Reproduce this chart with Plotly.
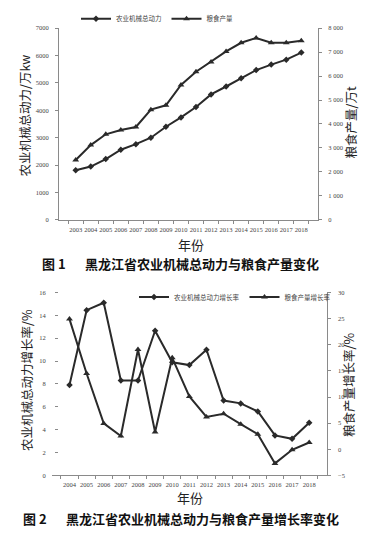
import plotly.graph_objects as go

# ---------- data: figure 1 ----------
years1 = ["2003", "2004", "2005", "2006", "2007", "2008", "2009", "2010",
          "2011", "2012", "2013", "2014", "2015", "2016", "2017", "2018"]
machinery_power = [1810, 1945, 2220, 2560, 2765, 3000, 3400, 3740,
                   4120, 4580, 4870, 5170, 5470, 5670, 5850, 6110]
grain_output = [2500, 3120, 3570, 3750, 3875, 4600, 4780, 5630,
                6180, 6590, 7030, 7390, 7590, 7390, 7390, 7480]
left1_ticks = [0, 1000, 2000, 3000, 4000, 5000, 6000, 7000]
left1_text = ["0", "1000", "2000", "3000", "4000", "5000", "6000", "7000"]
right1_ticks = [0, 1000, 2000, 3000, 4000, 5000, 6000, 7000, 8000]
right1_text = ["0", "1 000", "2 000", "3 000", "4 000", "5 000", "6 000", "7 000", "8 000"]

# ---------- data: figure 2 ----------
years2 = ["2004", "2005", "2006", "2007", "2008", "2009", "2010", "2011",
          "2012", "2013", "2014", "2015", "2016", "2017", "2018"]
machinery_growth = [7.9, 14.45, 15.1, 8.3, 8.3, 12.65, 9.9, 9.65,
                    11.0, 6.55, 6.3, 5.6, 3.5, 3.2, 4.6]
grain_growth = [24.9, 14.5, 4.95, 2.55, 19.1, 3.3, 17.5, 10.1,
                6.2, 6.8, 4.8, 2.9, -2.7, -0.1, 1.3]

W, H = 369, 533
LINE = "#2a2a2a"
AX = "#8a8a8a"
FONT = "Noto Sans CJK SC"

def px_x(p):
    return p / W

def px_y(p):
    return 1 - p / H

fig = go.Figure()

fig.add_trace(go.Scatter(
    x=years1, y=machinery_power, name="农业机械总动力",
    mode="lines+markers", xaxis="x", yaxis="y",
    line=dict(color=LINE, width=2),
    marker=dict(symbol="diamond", size=5, color=LINE),
    legend="legend"))
fig.add_trace(go.Scatter(
    x=years1, y=grain_output, name="粮食产量",
    mode="lines+markers", xaxis="x", yaxis="y2",
    line=dict(color=LINE, width=2),
    marker=dict(symbol="triangle-up", size=6, color=LINE),
    legend="legend"))

fig.add_trace(go.Scatter(
    x=years2, y=machinery_growth, name="农业机械总动力增长率",
    mode="lines+markers", xaxis="x2", yaxis="y3",
    line=dict(color=LINE, width=2),
    marker=dict(symbol="diamond", size=5, color=LINE),
    legend="legend2"))
fig.add_trace(go.Scatter(
    x=years2, y=grain_growth, name="粮食产量增长率",
    mode="lines+markers", xaxis="x2", yaxis="y4",
    line=dict(color=LINE, width=2),
    marker=dict(symbol="triangle-up", size=6, color=LINE),
    legend="legend2"))

tickfont = dict(family="Liberation Serif", size=6.5, color="#444")

common_x = dict(type="category", showline=True, linecolor=AX, linewidth=1,
                ticks="outside", ticklen=3, tickcolor=AX, tickson="boundaries",
                showgrid=False, zeroline=False, tickfont=tickfont, tickangle=0,
                ticklabelstandoff=3, fixedrange=True)

fig.update_layout(
    width=W, height=H,
    margin=dict(l=0, r=0, t=0, b=0),
    paper_bgcolor="white", plot_bgcolor="white",
    font=dict(family=FONT, color="#222"),
    xaxis=dict(domain=[px_x(59), px_x(318)], anchor="y", **common_x),
    yaxis=dict(domain=[px_y(218.7), px_y(24.5)], range=[0, 7000],
               tickvals=left1_ticks, ticktext=left1_text,
               showline=True, linecolor=AX, ticks="outside", ticklen=3,
               tickcolor=AX, showgrid=False, zeroline=False, tickfont=tickfont,
               ticklabelstandoff=5),
    yaxis2=dict(overlaying="y", side="right", anchor="x", range=[0, 8000],
                tickvals=right1_ticks, ticktext=right1_text,
                showline=True, linecolor=AX, ticks="outside", ticklen=3,
                tickcolor=AX, showgrid=False, zeroline=False, tickfont=tickfont,
                ticklabelstandoff=5),
    xaxis2=dict(domain=[px_x(52), px_x(326.7)], anchor="y3", **common_x),
    yaxis3=dict(domain=[px_y(477.7), px_y(292.3)], range=[0, 16], dtick=2,
                showline=False, ticks="outside", ticklen=3,
                tickcolor=AX, showgrid=False, zeroline=False, tickfont=tickfont,
                ticklabelstandoff=8),
    yaxis4=dict(overlaying="y3", side="right", anchor="x2", range=[-5, 30], dtick=5,
                showline=True, linecolor=AX, ticks="outside", ticklen=3,
                tickcolor=AX, showgrid=False, zeroline=False, tickfont=tickfont,
                ticklabelstandoff=6),
    legend=dict(x=px_x(76), y=px_y(15), xanchor="left", yanchor="middle",
                orientation="h", font=dict(family=FONT, size=6.5, color="#444"),
                itemwidth=30, bgcolor="rgba(0,0,0,0)", tracegroupgap=0),
    legend2=dict(x=px_x(134), y=px_y(297), xanchor="left", yanchor="middle",
                 orientation="h", font=dict(family=FONT, size=6.5, color="#444"),
                 itemwidth=30, bgcolor="rgba(0,0,0,0)", tracegroupgap=0),
    showlegend=True,
)

title_font = dict(family=FONT, size=12.5, color="#222")
cap_font = dict(family=FONT, size=13, color="#111")

annotations = [
    # figure 1 axis titles
    dict(text="农业机械总动力/万kw", x=px_x(25), y=px_y(113), textangle=-90,
         font=title_font),
    dict(text="粮食产量/万t", x=px_x(350), y=px_y(120), textangle=-90,
         font=title_font),
    dict(text="年份", x=px_x(191), y=px_y(244), font=dict(family=FONT, size=13, color="#222")),
    dict(text="<b>图 1</b>", x=px_x(54), y=px_y(263), font=cap_font),
    dict(text="<b>黑龙江省农业机械总动力与粮食产量变化</b>", x=px_x(202), y=px_y(263),
         font=cap_font),
    # figure 2 axis titles
    dict(text="农业机械总动力增长率/%", x=px_x(27), y=px_y(381), textangle=-90,
         font=title_font),
    dict(text="粮食产量增长率/%", x=px_x(349), y=px_y(386), textangle=-90,
         font=title_font),
    dict(text="年份", x=px_x(190), y=px_y(500), font=dict(family=FONT, size=13, color="#222")),
    dict(text="<b>图 2</b>", x=px_x(35), y=px_y(521), font=cap_font),
    dict(text="<b>黑龙江省农业机械总动力与粮食产量增长率变化</b>", x=px_x(202), y=px_y(521),
         font=cap_font),
]
for a in annotations:
    a.update(xref="paper", yref="paper", showarrow=False,
             xanchor="center", yanchor="middle")
fig.update_layout(annotations=annotations)

fig.write_html("out.html",
               config={"displayModeBar": False},
               post_script="document.body.style.margin='0px';document.body.style.overflow='hidden';")
